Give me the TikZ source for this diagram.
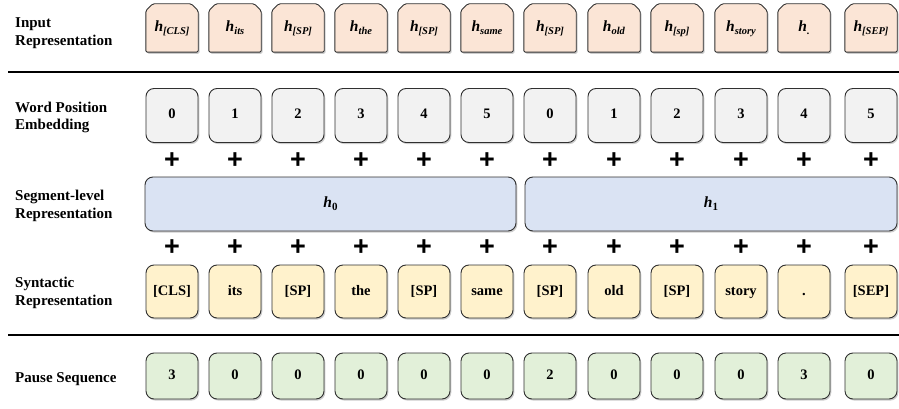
\documentclass[tikz,border=0pt]{standalone}
\usepackage{fontspec}
\setmainfont{Liberation Serif}
\setsansfont{Liberation Sans}
\usetikzlibrary{calc,shadows,backgrounds}

\definecolor{inputfill}{HTML}{FBE5D6}
\definecolor{posfill}{HTML}{F2F2F2}
\definecolor{segfill}{HTML}{DAE3F3}
\definecolor{synfill}{HTML}{FFF2CC}
\definecolor{pausefill}{HTML}{E2F0D9}
\definecolor{edgegray}{HTML}{303030}
\newcommand{\hsub}[1]{\textbf{\textit{h}}\raisebox{-3pt}{\fontsize{10.5}{12}\selectfont\textbf{\textit{#1}}}}
\newcommand{\hseg}[1]{\textbf{\textit{h}}\raisebox{-3pt}{\fontsize{11}{12}\selectfont\textbf{#1}}}

\begin{document}
\begin{tikzpicture}[x=1pt, y=-1pt,
    boxshadow/.style={drop shadow={shadow xshift=1.3pt, shadow yshift=-1.6pt, fill=black!40}},
    tokbox/.style={draw=edgegray, line width=0.9pt, rounded corners=8pt, minimum width=52pt, inner sep=0pt, text height=9.5pt, text depth=2.5pt, boxshadow, font=\fontsize{14.5}{16}\selectfont\bfseries},
    inbox/.style={minimum width=52pt, minimum height=48pt, inner sep=0pt, text height=10pt, text depth=3pt, font=\fontsize{15.5}{17}\selectfont},
    inshape/.style={draw=edgegray, fill=inputfill, line width=0.9pt, rounded corners=1.5pt, boxshadow},
    rowlabel/.style={anchor=west, align=left, inner sep=0pt, font=\fontsize{15}{17.6}\selectfont\bfseries},
    plussign/.style={inner sep=0pt, font=\fontsize{27}{27}\selectfont\sffamily\bfseries},
    sepline/.style={line width=1.8pt}]
    \useasboundingbox (0,0) rectangle (899,409);
    \node[rowlabel] (lbin) at (15,33) {Input\\Representation};
    \node[rowlabel] (lbpos) at (15,117.5) {Word Position\\Embedding};
    \node[rowlabel] (lbseg) at (15,206) {Segment-level\\Representation};
    \node[rowlabel] (lbsyn) at (15,293) {Syntactic\\Representation};
    \node[rowlabel] (lbpau) at (15,379) {Pause Sequence};
    \draw[sepline] (8,72) -- (899,72);
    \draw[sepline] (8,335) -- (899,335);
    \foreach \x/\hin/\pos/\syn/\pau [count=\i] in {172/{[CLS]}/0/{[CLS]}/3, 235/{its}/1/{its}/0, 298/{[SP]}/2/{[SP]}/0, 361/{the}/3/{the}/0, 424/{[SP]}/4/{[SP]}/0, 487/{same}/5/{same}/0, 550/{[SP]}/0/{[SP]}/2, 614/{old}/1/{old}/0, 677/{[sp]}/2/{[SP]}/0, 741/{story}/3/{story}/0, 804/{.}/4/{.}/3, 871/{[SEP]}/5/{[SEP]}/0}{
      \node[inbox] (in\i) at (\x,28) {\hsub{\hin}};
      \begin{pgfonlayer}{background}
        \filldraw[inshape] (in\i.south west) -- ([yshift=-7pt]in\i.north west) -- ([xshift=7pt]in\i.north west) -- ([xshift=-7pt]in\i.north east) -- ([yshift=-7pt]in\i.north east) -- (in\i.south east) -- cycle;
      \end{pgfonlayer}
      \node[tokbox, fill=posfill, minimum height=54pt] (pos\i) at (\x,115.5) {\pos};
      \node[plussign] (pa\i) at (\x,161) {+};
      \node[plussign] (pb\i) at (\x,248) {+};
      \node[tokbox, fill=synfill, minimum height=53pt] (syn\i) at (\x,291.5) {\syn};
      \node[tokbox, fill=pausefill, minimum height=46pt] (pau\i) at (\x,376) {\pau};
    }
    \node[tokbox, fill=segfill, minimum width=371pt, minimum height=54pt, font=\fontsize{15.5}{17}\selectfont] (seg0) at (330.5,204) {\hseg{0}};
    \node[tokbox, fill=segfill, minimum width=372pt, minimum height=54pt, font=\fontsize{15.5}{17}\selectfont] (seg1) at (711,204) {\hseg{1}};
  \end{tikzpicture}
\end{document}
